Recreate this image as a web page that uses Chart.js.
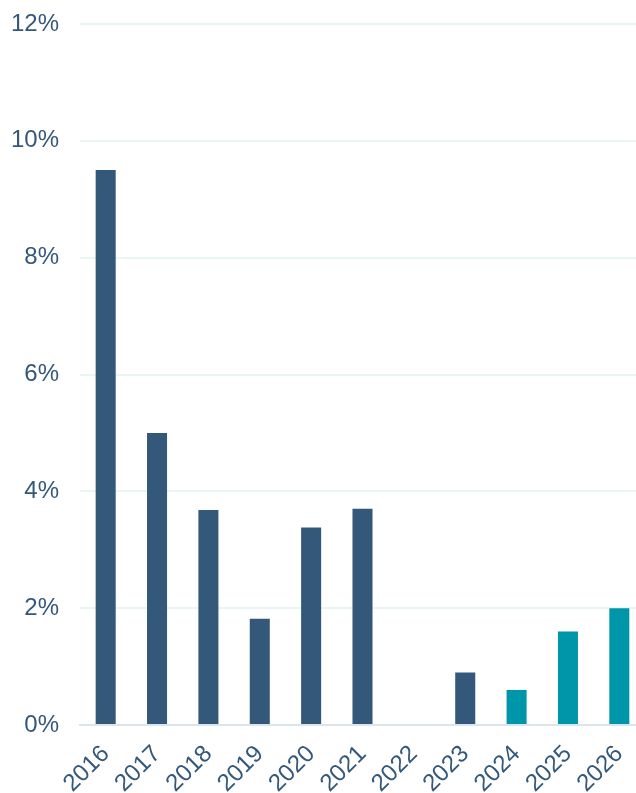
<!DOCTYPE html>
<html>
<head>
<meta charset="utf-8">
<script src="https://cdn.jsdelivr.net/npm/chart.js@4"></script>
<style>
html,body{margin:0;padding:0;background:#fff;overflow:hidden;width:636px;height:793px;}
#wrap{position:absolute;left:0;top:0;width:645px;height:793px;}
</style>
</head>
<body>
<div id="wrap"><canvas id="c" width="645" height="793"></canvas></div>
<script>
const years = ['2016','2017','2018','2019','2020','2021','2022','2023','2024','2025','2026'];
const values = [9.5, 5.0, 3.68, 1.82, 3.38, 3.7, 0, 0.9, 0.6, 1.6, 2.0];
const barColors = ['#34587A','#34587A','#34587A','#34587A','#34587A','#34587A','#34587A','#34587A','#0096A9','#0096A9','#0096A9'];
const yTicks = [0, 2, 4, 6, 8, 10, 12];
const textColor = '#34587A';

new Chart(document.getElementById('c'), {
  type: 'bar',
  data: {
    labels: years,
    datasets: [{
      data: values,
      backgroundColor: barColors,
      borderWidth: 0,
      categoryPercentage: 1,
      barPercentage: 0.39
    }]
  },
  options: {
    responsive: false,
    animation: false,
    layout: { autoPadding: false, padding: { left: 12, top: 24, right: 0, bottom: 0 } },
    plugins: { legend: { display: false }, tooltip: { enabled: false } },
    scales: {
      x: {
        grid: { display: false, drawTicks: false },
        border: { display: true, color: '#DCE5EE', width: 2 },
        afterFit: (s) => { s.paddingLeft = 0; s.paddingRight = 0; s.height = 68; },
        ticks: {
          color: textColor,
          font: { family: 'Liberation Sans, Arial', size: 24 },
          minRotation: 45, maxRotation: 45,
          padding: 15,
          autoSkip: false
        }
      },
      y: {
        min: 0, max: 12,
        afterBuildTicks: (axis) => { axis.ticks = yTicks.map(v => ({ value: v })); },
        afterFit: (s) => { s.paddingTop = 0; s.paddingBottom = 0; s.width = 68; },
        grid: { color: '#EAF5F5', lineWidth: 2, drawTicks: false },
        border: { display: false },
        ticks: {
          color: textColor,
          font: { family: 'Liberation Sans, Arial', size: 24 },
          padding: 21,
          callback: (v) => v + '%'
        }
      }
    }
  }
});
</script>
</body>
</html>
